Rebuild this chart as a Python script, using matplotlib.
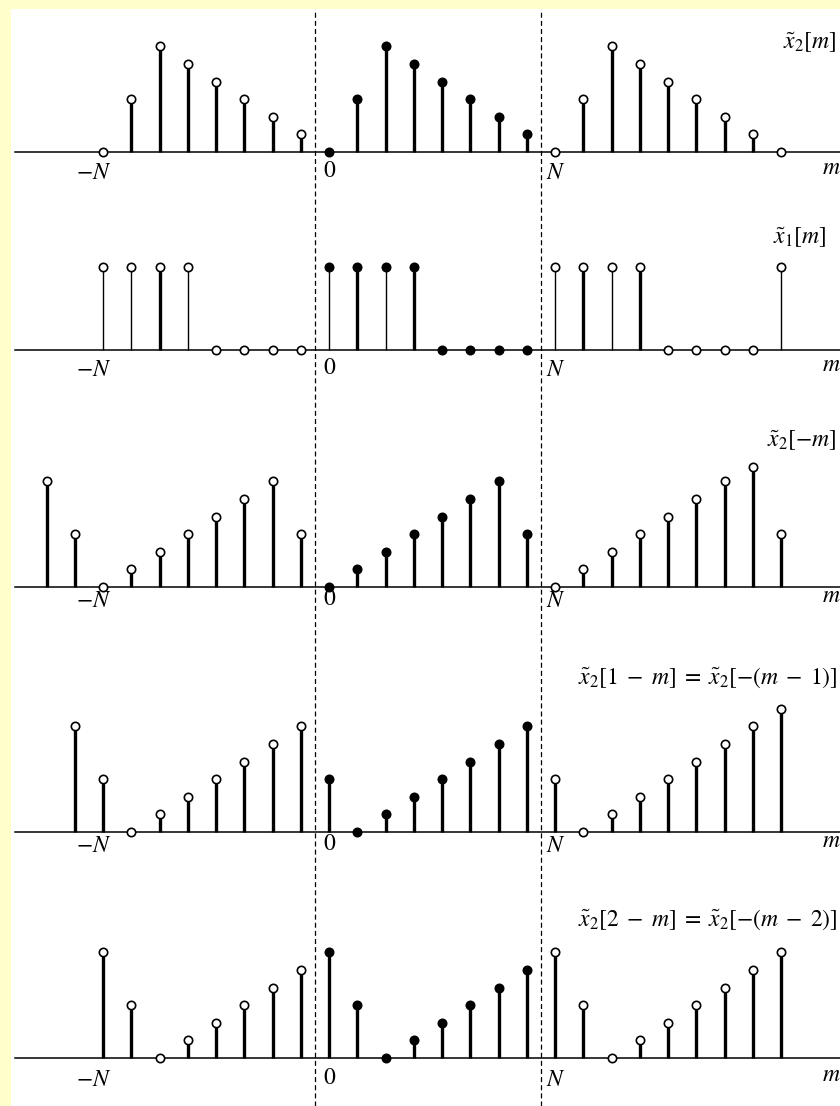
import numpy as np
import matplotlib
matplotlib.use("Agg")
import matplotlib.pyplot as plt
from matplotlib.patches import Rectangle

plt.rcParams["mathtext.fontset"] = "stix"
plt.rcParams["font.family"] = "STIXGeneral"

# ---- data (N = 8) ----
N = 8
m_row1 = list(range(-8, 17))
x2_m = [0, 3, 6, 5, 4, 3, 2, 1,
        0, 3, 6, 5, 4, 3, 2, 1,
        0, 3, 6, 5, 4, 3, 2, 1, 0]

m_row2 = list(range(-8, 17))
x1_m = [1, 1, 1, 1, 0, 0, 0, 0,
        1, 1, 1, 1, 0, 0, 0, 0,
        1, 1, 1, 1, 0, 0, 0, 0, 1]
x1_thick = [0, 0, 1, 0, 0, 0, 0, 0,
            0, 1, 0, 1, 0, 0, 0, 0,
            0, 1, 0, 1, 0, 0, 0, 0, 0]

m_row3 = list(range(-10, 17))
x2_neg_m = [6, 3, 0, 1, 2, 3, 4, 5, 6, 3,
            0, 1, 2, 3, 4, 5, 6, 3,
            0, 1, 2, 3, 4, 5, 6, 6.8, 3]

m_row4 = list(range(-9, 17))
x2_1_m = [6, 3, 0, 1, 2, 3, 4, 5, 6,
          3, 0, 1, 2, 3, 4, 5, 6,
          3, 0, 1, 2, 3, 4, 5, 6, 7]

m_row5 = list(range(-8, 17))
x2_2_m = [6, 3, 0, 1, 2, 3, 4, 5,
          6, 3, 0, 1, 2, 3, 4, 5,
          6, 3, 0, 1, 2, 3, 4, 5, 6]

titles = [r"$\tilde{x}_2[m]$",
          r"$\tilde{x}_1[m]$",
          r"$\tilde{x}_2[-m]$",
          r"$\tilde{x}_2[1\;-\;m]\;=\;\tilde{x}_2[-(m\;-\;1)]$",
          r"$\tilde{x}_2[2\;-\;m]\;=\;\tilde{x}_2[-(m\;-\;2)]$"]

# ---- layout (pixels) ----
W, H = 840, 1106
X0, DX = 329, 28.25          # px of m=0, px per sample
baselines = [152, 350, 587, 832, 1058]
units = [17.6, 83.5, 17.6, 17.6, 17.6]   # px per unit value
title_dy = [109, 112, 146, 154, 138]
title_dx = [-3, -13, -3, -2, -2]
label_dy = [21, 20, 14, 14, 22]

def rect(l, t, r, b):
    return [l / W, 1 - b / H, (r - l) / W, (b - t) / H]

xl, xr = (11 - X0) / DX, (840 - X0) / DX

fig = plt.figure(figsize=(W / 100, H / 100), dpi=100, facecolor="#FFFFCC")
fig.patches.append(Rectangle((11 / W, 0), 1 - 11 / W, 1 - 9 / H,
                             transform=fig.transFigure, facecolor="white",
                             edgecolor="none", zorder=-10))

# dashed period boundaries
over = fig.add_axes(rect(11, 9, 840, 1106))
over.set_xlim(xl, xr)
over.set_ylim(0, 1)
over.axis("off")
for xv in (-0.5, N - 0.5):
    over.axvline(xv, color="black", lw=0.9, ls=(0, (4, 2.5)))

rows = [(m_row1, x2_m), (m_row2, x1_m), (m_row3, x2_neg_m),
        (m_row4, x2_1_m), (m_row5, x2_2_m)]

for i, (ms, vals) in enumerate(rows):
    b, u = baselines[i], units[i]
    ax = fig.add_axes(rect(11, b - 150, 840, b + 45))
    ax.set_xlim(xl, xr)
    ax.set_ylim(-45 / u, 150 / u)
    ax.axis("off")

    ax.plot([(15 - X0) / DX, xr], [0, 0], color="black", lw=1.1, zorder=1,
            clip_on=False)

    ms = np.array(ms)
    vals = np.array(vals, dtype=float)
    nz = vals != 0
    if i == 1:
        lws = np.array([2.4 if t else 1.0 for t in x1_thick])[nz]
    else:
        lws = 2.4
    ax.vlines(ms[nz], 0, vals[nz], color="black", lw=lws, zorder=2)

    inside = (ms >= 0) & (ms <= N - 1)
    ax.plot(ms[inside], vals[inside], "o", ms=6, mfc="black", mec="black",
            mew=1.2, zorder=3)
    ax.plot(ms[~inside], vals[~inside], "o", ms=6, mfc="white", mec="black",
            mew=1.2, zorder=3)

    d = label_dy[i]
    ax.annotate(r"$-N$", xy=(-N, 0), xytext=(-9, -d), textcoords="offset pixels",
                ha="center", va="center", fontsize=17)
    ax.annotate(r"$0$", xy=(0, 0), xytext=(1, -d + 2), textcoords="offset pixels",
                ha="center", va="center", fontsize=17)
    ax.annotate(r"$N$", xy=(N, 0), xytext=(1, -d), textcoords="offset pixels",
                ha="center", va="center", fontsize=17)
    ax.annotate(r"$m$", xy=((831 - X0) / DX, 0), xytext=(0, -d + 5),
                textcoords="offset pixels", ha="center", va="center", fontsize=17)
    ax.annotate(titles[i], xy=(1, 0), xycoords=("axes fraction", "data"),
                xytext=(title_dx[i], title_dy[i]), textcoords="offset pixels",
                ha="right", va="center", fontsize=17)

fig.savefig("out.png", dpi=100, facecolor=fig.get_facecolor())
